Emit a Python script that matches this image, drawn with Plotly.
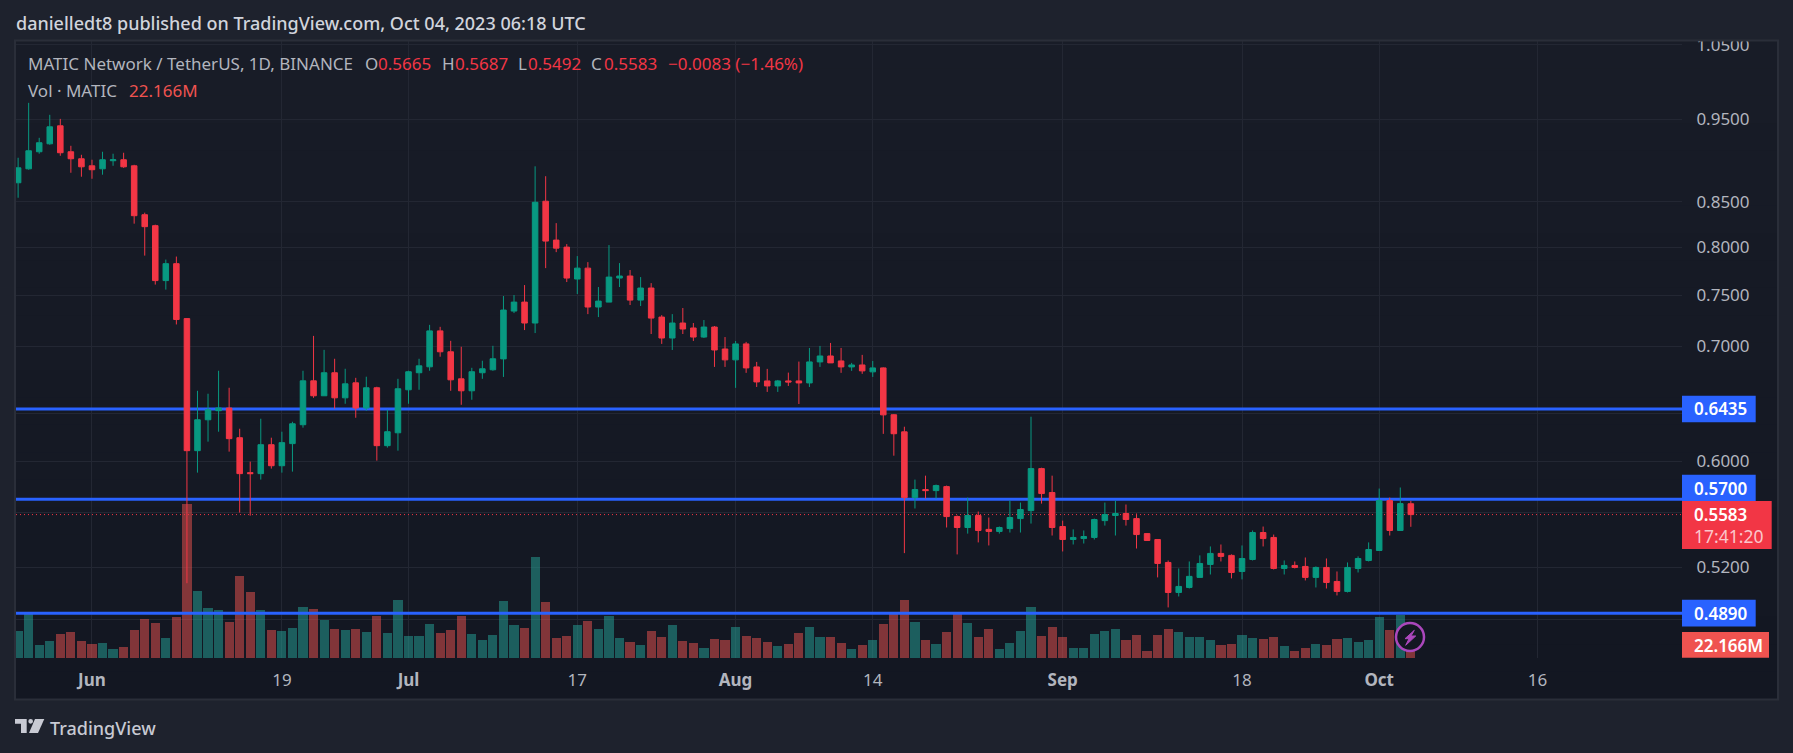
import math
import pandas as pd
import plotly.graph_objects as go

START_DATE = "2023-05-25"
opens = [.8722,.8887,.9093,.9191,.9416,.9093,.9008,.8923,.8887,.8984,.8996,.8923,.8355,.8233,.7647,.7823,.7266,
 .6084,.6342,.6420,.6443,.6191,.5907,.5899,.6133,.5962,.6142,.6300,.6683,.6550,.6756,.6532,.6665,.6443,.6621,.6125,.6232,
 .6603,.6756,.6810,.7147,.6949,.6701,.6594,.6756,.6783,
 .6883,.7340,.7429,.7223,.8508,.8075,.7999,.7663,.7776,.7380,.7429,.7673,.7694,.7449,.7571,.7281,.7079,.7223,.7175,.7088,.7184,.6975,
 .6874,.7023,.6809,.6682,.6637,.6682,.6682,.6664,.6855,.6910,.6864,.6809,.6827,.6764,.6800,.6385,.6240,
 .5712,.5774,.5766,.5797,.5568,.5487,.5576,.5473,.5458,.5479,.5553,.5613,.5939,.5751,
 .5494,.5399,.5406,.5414,.5538,.5576,.5591,.5553,.5442,.5399,.5235,.5028,.5062,.5131,.5221,.5299,.5285,.5172,.5256,.5450,.5414,.5193,.5214,.5207,.5131,.5200,.5103,.5035,.5193,.5249,
 .5320,.5689,.5465,.5665]
highs = [.9020,.9711,.9265,.9556,.9504,.9166,.9056,.8996,.9093,.9069,.9081,.8935,.8378,.8244,.7866,.7898,.7272,
 .6594,.6568,.6774,.6621,.6266,.5995,.6351,.6191,.6241,.6325,.6774,.7099,.6967,.6884,.6792,.6710,.6720,.6630,.6428,.6701,
 .6774,.6884,.7205,.7186,.7052,.6996,.6801,.6866,.7005,
 .7490,.7500,.7601,.8917,.8799,.8261,.8031,.7903,.7839,.7581,.8021,.7829,.7756,.7683,.7621,.7300,.7310,.7370,.7223,.7252,.7194,.7088,
 .7051,.7042,.6855,.6791,.6691,.6757,.6858,.6985,.7004,.7032,.6985,.6846,.6920,.6864,.6805,.6390,.6283,
 .5852,.5883,.5813,.5805,.5576,.5712,.5606,.5561,.5494,.5689,.5674,.6368,.5946,.5883,
 .5538,.5473,.5465,.5553,.5674,.5689,.5659,.5591,.5445,.5402,.5249,.5193,.5242,.5285,.5349,.5363,.5292,.5356,.5465,.5494,.5435,.5249,.5242,.5270,.5207,.5263,.5172,.5235,.5278,.5378,
 .5782,.5712,.5790,.5687]
lows = [.8548,.8876,.9069,.9179,.9044,.8840,.8793,.8769,.8817,.8923,.8899,.8255,.7908,.7606,.7555,.7209,.5091,
 .5907,.6158,.6241,.6076,.5598,.5575,.5852,.5939,.5907,.5915,.6275,.6532,.6550,.6437,.6480,.6359,.6420,.6003,.6109,.6084,
 .6480,.6603,.6774,.6903,.6594,.6471,.6515,.6701,.6774,
 .6718,.7320,.7155,.7126,.7776,.7945,.7632,.7510,.7310,.7281,.7429,.7581,.7400,.7390,.7117,.7023,.6966,.7117,.7051,.7079,.6809,.6809,
 .6620,.6755,.6628,.6584,.6584,.6637,.6478,.6628,.6809,.6846,.6755,.6773,.6746,.6718,.6223,.6043,.5301,
 .5629,.5704,.5704,.5487,.5292,.5442,.5378,.5356,.5442,.5450,.5450,.5516,.5666,.5428,
 .5313,.5363,.5370,.5399,.5501,.5428,.5501,.5334,.5390,.5131,.4928,.5001,.5055,.5131,.5151,.5242,.5124,.5117,.5249,.5349,.5186,.5151,.5193,.5110,.5062,.5055,.5008,.5028,.5165,.5242,
 .5320,.5428,.5465,.5492]
closes = [.8899,.9105,.9204,.9403,.9081,.9008,.8911,.8876,.8996,.8996,.8911,.8344,.8222,.7647,.7823,.7257,.6084,
 .6342,.6428,.6443,.6183,.5899,.5899,.6133,.5962,.6150,.6308,.6683,.6550,.6756,.6532,.6656,.6443,.6621,.6125,.6241,.6612,
 .6765,.6819,.7147,.6949,.6692,.6594,.6765,.6792,.6884,
 .7350,.7429,.7223,.8496,.8064,.7988,.7673,.7776,.7380,.7439,.7683,.7694,.7449,.7571,.7271,.7079,.7223,.7165,.7088,.7184,.6966,.6874,
 .7023,.6800,.6673,.6637,.6682,.6673,.6664,.6855,.6910,.6846,.6809,.6827,.6773,.6800,.6384,.6224,.5712,
 .5774,.5766,.5805,.5568,.5487,.5576,.5465,.5458,.5487,.5561,.5621,.5939,.5743,.5487,
 .5399,.5414,.5421,.5546,.5583,.5591,.5546,.5435,.5392,.5228,.5028,.5069,.5138,.5228,.5299,.5278,.5165,.5263,.5450,.5406,.5193,.5214,.5200,.5131,.5200,.5096,.5035,.5200,.5263,.5327,
 .5689,.5465,.5666,.5583]
volumes = [58.6,97.5,27.9,36.7,52.0,56.4,36.7,30.1,32.3,19.1,23.5,60.8,85.0,76.2,43.2,89.4,337.9,
 146.6,109.2,104.8,78.4,179.6,144.4,104.8,60.8,58.6,65.2,111.4,107.0,82.8,63.0,60.8,63.0,56.4,91.6,54.2,126.8,
 47.6,47.6,74.0,54.2,60.8,91.6,52.0,38.8,50.6,
 125.3,72.6,66.0,222.0,123.1,44.0,48.4,72.6,81.4,63.8,92.4,44.0,35.2,28.6,59.4,46.2,72.6,37.4,33.0,22.0,41.8,39.6,
 68.2,48.4,44.0,35.2,26.4,30.8,55.0,68.2,46.2,46.2,33.0,19.8,28.6,39.6,74.8,98.2,127.5,
 79.2,38.8,30.0,56.4,97.5,76.2,45.4,63.0,19.1,32.3,58.6,111.4,47.6,67.4,
 45.4,21.3,21.3,52.0,58.6,63.0,38.8,49.8,14.7,49.8,63.0,56.4,45.4,45.4,38.8,27.9,30.0,49.8,43.2,41.0,45.4,25.7,14.7,21.3,30.0,27.9,41.0,43.2,34.5,38.8,
 89.4,60.8,93.8,22.166]
level_values = [0.6435, 0.5700, 0.4890]
last_price = 0.5583
price_ticks = [1.05, 0.95, 0.85, 0.80, 0.75, 0.70, 0.64, 0.60, 0.56, 0.52, 0.485]
price_tick_labels = ["1.0500", "0.9500", "0.8500", "0.8000", "0.7500", "0.7000", " ", "0.6000", " ", "0.5200", " "]
time_ticks = ["2023-06-01", "2023-06-19", "2023-07-01", "2023-07-17", "2023-08-01", "2023-08-14",
              "2023-09-01", "2023-09-18", "2023-10-01", "2023-10-16"]
time_labels = ["<b>Jun</b>", "19", "<b>Jul</b>", "17", "<b>Aug</b>", "14", "<b>Sep</b>", "18", "<b>Oct</b>", "16"]
x_range = ["2023-05-24 19:12", "2023-10-29 16:48"]
price_range = [0.4604, 1.0553]
volume_range = [0, 1357]

dates = pd.date_range(START_DATE, periods=len(closes), freq="D")

FONT = "Noto Sans"
GREEN, RED, BLUE = "#089981", "#F23645", "#2962FF"
TXT, GRID, PANEL = "#B2B5BE", "#232733", "#1E222D"
W, H = 1793, 753
L, R, T, B = 16, 1682, 41, 658
log_range = [math.log10(price_range[0]), math.log10(price_range[1])]


def px(x):
    return (x - L) / (R - L)


def py(y):
    return (B - y) / (B - T)


def price_y(v):
    frac = (math.log10(v) - log_range[0]) / (log_range[1] - log_range[0])
    return B - frac * (B - T)


def rect(x0, y0, x1, y1, fill, layer="below", line=None):
    return dict(type="rect", xref="paper", yref="paper", x0=px(x0), x1=px(x1), y0=py(y0), y1=py(y1),
                fillcolor=fill, layer=layer, line=line or dict(width=0))


def poly(points, fill, stroke=0):
    path = "M " + " L ".join(f"{px(a):.5f},{py(b):.5f}" for a, b in points) + " Z"
    return dict(type="path", xref="paper", yref="paper", path=path, fillcolor=fill,
                line=dict(width=stroke, color=fill), layer="above")


def text(x, y, s, size=16, color=TXT, anchor="left", weight=None):
    return dict(xref="paper", yref="paper", x=px(x), y=py(y), text=s, showarrow=False, xanchor=anchor, yanchor="middle",
                font=dict(family=FONT, size=size, color=color, weight=weight), align="left", borderpad=0)


fig = go.Figure()
vol_colors = ["rgba(38,166,154,0.5)" if c >= o else "rgba(239,83,80,0.5)" for o, c in zip(opens, closes)]
fig.add_trace(go.Bar(x=dates, y=volumes, marker=dict(color=vol_colors, line=dict(width=0)),
                     width=0.87 * 86400000, yaxis="y", showlegend=False))
for v in level_values:
    fig.add_trace(go.Scatter(x=x_range, y=[v, v], mode="lines", line=dict(color=BLUE, width=3), yaxis="y2",
                             showlegend=False))
fig.add_trace(go.Scatter(x=x_range, y=[last_price, last_price], mode="lines",
                         line=dict(color=RED, width=1, dash="1px 3px"), yaxis="y2", showlegend=False))
fig.add_trace(go.Candlestick(x=dates, open=opens, high=highs, low=lows, close=closes, yaxis="y3", showlegend=False,
                             increasing=dict(line=dict(color=GREEN, width=1), fillcolor=GREEN),
                             decreasing=dict(line=dict(color=RED, width=1), fillcolor=RED)))

# pane background (vertical gradient) and frame
shapes = []
n = 24
c0, c1 = (24, 28, 39), (19, 23, 34)
for i in range(n):
    f = i / (n - 1)
    col = "rgb(%d,%d,%d)" % tuple(round(a + (b - a) * f) for a, b in zip(c0, c1))
    shapes.append(rect(15, 41 + 658 * i / n, 1778, 41 + 658 * (i + 1) / n + 1, col))
shapes.append(rect(0, 0, W, 40, PANEL, layer="above"))
shapes.append(rect(15, 40.5, 1778, 699.5, "rgba(0,0,0,0)", layer="above", line=dict(color="#2A2E39", width=2)))
# lightning marker
shapes.append(dict(type="circle", xref="paper", yref="paper", x0=px(1396), x1=px(1424), y0=py(623), y1=py(651),
                   fillcolor="#131722", line=dict(color="#AB47BC", width=2.5), layer="above"))
shapes.append(poly([(1414.3, 630.3), (1405, 638.7), (1409, 638.7), (1405.7, 645.3), (1415.7, 636), (1411, 636)], "#AB47BC", 1))
# logo
shapes.append(poly([(15, 719), (26.7, 719), (26.7, 733), (21, 733), (21, 723.7), (15, 723.7)], "#C8CAD3"))
shapes.append(dict(type="circle", xref="paper", yref="paper", x0=px(28.3), x1=px(33), y0=py(719), y1=py(723.7),
                   fillcolor="#C8CAD3", line=dict(width=0), layer="above"))
shapes.append(poly([(35, 719), (44.3, 719), (38, 733), (29, 733)], "#C8CAD3"))

anns = [
    text(15, 23, "danielledt8 published on TradingView.com, Oct 04, 2023 06:18 UTC", size=18, color="#D1D4DC", weight=500),
    text(27, 64, "MATIC Network / TetherUS, 1D, BINANCE", size=17),
    text(27, 90, "Vol · MATIC", size=17),
    text(128, 90, "22.166M", size=17, color="#EF5350"),
    text(49, 728, "TradingView", size=18, color="#C8CAD3", weight=500),
]
legend_parts = [(364, "O"), (377, "0.5665"), (441, "H"), (454, "0.5687"), (517, "L"), (527, "0.5492"), (590, "C"), (603, "0.5583"),
                (667, "−0.0083 (−1.46%)")]
for x, s in legend_parts:
    anns.append(text(x, 64, s, size=17, color=TXT if s in "OHLC" else RED))

# price-scale tags
LABEL_SHIFT = {0.5700: -11}
for v in level_values:
    yc = price_y(v) + LABEL_SHIFT.get(v, 0)
    shapes.append(rect(R, yc - 13.3, 1755.7, yc + 13.3, BLUE, layer="above"))
    anns.append(text(1693, yc, f"{v:.4f}", size=17, color="#FFFFFF", weight=600))
shapes.append(rect(R, 501, 1771.7, 549, RED, layer="above"))
anns.append(text(1693, 514.3, f"{last_price:.4f}", size=17, color="#FFFFFF", weight=600))
anns.append(text(1693, 535.7, "17:41:20", size=17.5, color="#FBC6CB"))
shapes.append(rect(R, 632, 1769, 657.7, "#EF5350", layer="above"))
anns.append(text(1693, 645, "22.166M", size=17, color="#FFFFFF", weight=600))

fig.update_layout(
    width=W, height=H, autosize=False,
    margin=dict(l=L, r=W - R, t=T, b=H - B),
    paper_bgcolor=PANEL, plot_bgcolor="rgba(0,0,0,0)",
    showlegend=False, shapes=shapes, annotations=anns, bargap=0, boxgap=0.25,
    font=dict(family=FONT),
    xaxis=dict(type="date", range=x_range, tickmode="array", tickvals=time_ticks, ticktext=time_labels,
               showgrid=True, gridcolor=GRID, gridwidth=1, zeroline=False, showline=False,
               ticks="outside", ticklen=7, tickcolor="rgba(0,0,0,0)", tickangle=0,
               tickfont=dict(family=FONT, size=17, color=TXT), rangeslider=dict(visible=False)),
    yaxis=dict(range=volume_range, visible=False, showgrid=False, zeroline=False, fixedrange=True),
    yaxis2=dict(type="log", range=log_range, overlaying="y", side="right", tickmode="array", tickvals=price_ticks,
                ticktext=price_tick_labels, showgrid=True, gridcolor=GRID, gridwidth=1, zeroline=False, showline=False,
                ticks="outside", ticklen=10, tickcolor="rgba(0,0,0,0)", tickfont=dict(family=FONT, size=17, color=TXT)),
    yaxis3=dict(type="log", range=log_range, overlaying="y", side="right", visible=False, showgrid=False),
)
fig.write_html("out.html", config={"displayModeBar": False},
               post_script="document.body.style.margin='0';document.documentElement.style.overflow='hidden';document.body.style.background='#1E222D';")
